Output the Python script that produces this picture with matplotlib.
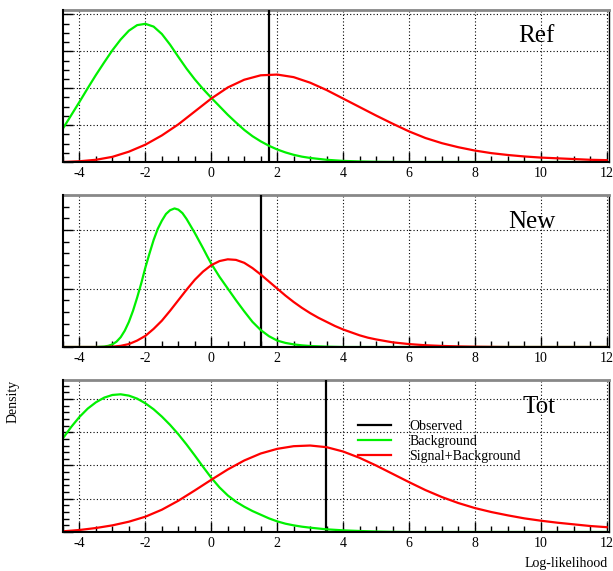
import matplotlib
matplotlib.use("Agg")
import matplotlib.pyplot as plt
from matplotlib.ticker import MultipleLocator, AutoMinorLocator

plt.rcParams['font.family'] = ['Liberation Serif', 'DejaVu Serif']
plt.rcParams['axes.unicode_minus'] = False

# ---------------- data ----------------
panel_names = ["Ref", "New", "Tot"]
observed = [1.76, 1.51, 3.47]
y_top = [4.12, 2.60, 4.57]
y_minor = [4, 5, 5]

ref_bkg_x = [-4.5, -4.25, -4.0, -3.75, -3.5, -3.25, -3.0, -2.75, -2.5, -2.25, -2.0, -1.75, -1.5,
             -1.25, -1.0, -0.75, -0.5, -0.25, 0.0, 0.25, 0.5, 0.75, 1.0, 1.25, 1.5, 1.75, 2.0,
             2.25, 2.5, 2.75, 3.0, 3.5, 4.0, 4.5, 5.0, 5.5, 6.0, 12.0]
ref_bkg_y = [0.91, 1.27, 1.63, 2.00, 2.36, 2.70, 3.03, 3.32, 3.56, 3.71, 3.745, 3.67, 3.47,
             3.18, 2.85, 2.53, 2.24, 1.98, 1.74, 1.51, 1.28, 1.07, 0.87, 0.70, 0.56, 0.44, 0.34,
             0.26, 0.195, 0.145, 0.11, 0.06, 0.03, 0.015, 0.006, 0.002, 0.0, 0.0]

ref_sb_x = [-4.5, -4.0, -3.5, -3.0, -2.5, -2.0, -1.5, -1.0, -0.5, 0.0, 0.5, 1.0, 1.5, 2.0, 2.5,
            3.0, 3.5, 4.0, 4.5, 5.0, 5.5, 6.0, 6.5, 7.0, 7.5, 8.0, 8.5, 9.0, 9.5, 10.0, 10.5,
            11.0, 11.5, 12.0]
ref_sb_y = [0.0, 0.02, 0.06, 0.14, 0.28, 0.47, 0.72, 1.02, 1.37, 1.72, 2.02, 2.23, 2.35, 2.37,
            2.30, 2.15, 1.95, 1.72, 1.49, 1.26, 1.04, 0.83, 0.65, 0.51, 0.40, 0.31, 0.24, 0.19,
            0.15, 0.12, 0.10, 0.08, 0.06, 0.05]

new_bkg_x = [-4.5, -3.5, -3.25, -3.125, -3.0, -2.875, -2.75, -2.625, -2.5, -2.375, -2.25, -2.125,
             -2.0, -1.875, -1.75, -1.625, -1.5, -1.375, -1.25, -1.115, -1.0, -0.875, -0.75,
             -0.625, -0.5, -0.375, -0.25, -0.125, 0.0, 0.25, 0.5, 0.75, 1.0, 1.25, 1.5, 1.75,
             2.0, 2.25, 2.5, 2.75, 3.0, 3.5, 4.0, 12.0]
new_bkg_y = [0.0, 0.0, 0.008, 0.02, 0.045, 0.092, 0.167, 0.28, 0.43, 0.62, 0.845, 1.09,
             1.36, 1.60, 1.83, 2.02, 2.16, 2.275, 2.34, 2.37, 2.35, 2.29, 2.19,
             2.07, 1.95, 1.82, 1.69, 1.555, 1.425, 1.20, 1.00, 0.80, 0.61, 0.43, 0.29, 0.185,
             0.11, 0.07, 0.045, 0.028, 0.017, 0.006, 0.0, 0.0]

new_sb_x = [-4.5, -3.25, -3.0, -2.75, -2.5, -2.25, -2.0, -1.75, -1.5, -1.25, -1.0, -0.75, -0.5,
            -0.25, 0.0, 0.25, 0.5, 0.75, 1.0, 1.25, 1.5, 1.75, 2.0, 2.25, 2.5, 2.75, 3.0, 3.25,
            3.5, 3.75, 4.0, 4.25, 4.5, 4.75, 5.0, 5.5, 6.0, 6.5, 7.0, 7.5, 8.0, 9.0, 12.0]
new_sb_y = [0.0, 0.0, 0.005, 0.02, 0.05, 0.11, 0.19, 0.31, 0.45, 0.62, 0.80, 0.98, 1.15,
            1.29, 1.40, 1.47, 1.50, 1.49, 1.44, 1.35, 1.24, 1.12, 1.00, 0.88, 0.77, 0.67, 0.58, 0.50,
            0.43, 0.36, 0.30, 0.25, 0.20, 0.16, 0.13, 0.08, 0.05, 0.03, 0.018, 0.01, 0.005, 0.0, 0.0]

tot_bkg_x = [-4.5, -4.25, -4.0, -3.75, -3.5, -3.25, -3.0, -2.75, -2.5, -2.25, -2.0, -1.75, -1.5,
             -1.25, -1.0, -0.75, -0.5, -0.25, 0.0, 0.25, 0.5, 0.75, 1.0, 1.25, 1.5, 1.75, 2.0,
             2.25, 2.5, 2.75, 3.0, 3.5, 4.0, 4.5, 5.0, 5.5, 6.0, 12.0]
tot_bkg_y = [2.82, 3.16, 3.46, 3.71, 3.90, 4.04, 4.12, 4.14, 4.10, 4.01, 3.87, 3.69, 3.47,
             3.22, 2.94, 2.63, 2.30, 1.96, 1.63, 1.34, 1.10, 0.91, 0.76, 0.63, 0.52, 0.41, 0.32,
             0.25, 0.20, 0.16, 0.13, 0.08, 0.05, 0.03, 0.015, 0.005, 0.0, 0.0]

tot_sb_x = [-4.5, -4.0, -3.5, -3.0, -2.5, -2.0, -1.5, -1.0, -0.5, 0.0, 0.5, 1.0, 1.5, 2.0, 2.5,
            3.0, 3.5, 4.0, 4.5, 5.0, 5.5, 6.0, 6.5, 7.0, 7.5, 8.0, 8.5, 9.0, 9.5, 10.0, 10.5,
            11.0, 11.5, 12.0]
tot_sb_y = [0.02, 0.06, 0.12, 0.20, 0.31, 0.46, 0.67, 0.94, 1.25, 1.57, 1.88, 2.15, 2.36, 2.50,
            2.58, 2.60, 2.55, 2.42, 2.23, 2.00, 1.75, 1.50, 1.26, 1.05, 0.87, 0.72, 0.60, 0.50,
            0.41, 0.34, 0.28, 0.23, 0.18, 0.145]

bkg_x = [ref_bkg_x, new_bkg_x, tot_bkg_x]
bkg_y = [ref_bkg_y, new_bkg_y, tot_bkg_y]
sb_x = [ref_sb_x, new_sb_x, tot_sb_x]
sb_y = [ref_sb_y, new_sb_y, tot_sb_y]

legend_labels = ["Observed", "Background", "Signal+Background"]
x_label = "Log-likelihood"
y_label = "Density"
x_range = (-4.5, 12.07)

# ---------------- figure ----------------
W, H = 613, 571
fig = plt.figure(figsize=(W / 100, H / 100), dpi=100)

panel_px = [(10, 162), (195, 347), (380, 532)]  # top, bottom in pixels
left_px, right_px = 63, 609
title_pos = [(0.833, 0.79), (0.815, 0.783), (0.842, 0.783)]

for i in range(3):
    top, bot = panel_px[i]
    ax = fig.add_axes([left_px / W, (H - bot) / H, (right_px - left_px) / W, (bot - top) / H])
    ax.set_xlim(*x_range)
    ax.set_ylim(0, y_top[i])

    h_obs = ax.axvline(observed[i], color='black', lw=1.6, zorder=3)
    h_bkg, = ax.plot(bkg_x[i], bkg_y[i], color='#00f000', lw=1.6, zorder=3,
                     solid_joinstyle='round')
    h_sb, = ax.plot(sb_x[i], sb_y[i], color='#ff0000', lw=1.6, zorder=3,
                    solid_joinstyle='round')

    ax.xaxis.set_major_locator(MultipleLocator(2))
    ax.xaxis.set_minor_locator(MultipleLocator(0.5))
    ax.yaxis.set_major_locator(MultipleLocator(1))
    ax.yaxis.set_minor_locator(AutoMinorLocator(y_minor[i]))
    ax.tick_params(axis='both', which='major', direction='in', length=7.5, width=1,
                   top=False, right=False, labelsize=10, pad=3.5)
    ax.tick_params(axis='both', which='minor', direction='in', length=4, width=1,
                   top=False, right=False)
    ax.tick_params(axis='y', labelleft=False)
    ax.grid(True, which='major', color='black', lw=0.8, linestyle=(0, (1, 2)))
    ax.set_axisbelow(True)

    for s in ['left', 'bottom']:
        ax.spines[s].set_linewidth(1.5)
        ax.spines[s].set_color('black')
        ax.spines[s].set_zorder(4)
    ax.spines['right'].set_linewidth(1.0)
    ax.spines['right'].set_color('black')
    ax.spines['top'].set_linewidth(2.0)
    ax.spines['top'].set_color('#888888')

    ax.text(title_pos[i][0], title_pos[i][1], panel_names[i], transform=ax.transAxes,
            fontsize=18, ha='left', va='baseline')

    if i == 2:
        ax.legend([h_obs, h_bkg, h_sb], legend_labels, loc='upper left',
                  bbox_to_anchor=((358 - left_px) / (right_px - left_px), (bot - 420) / (bot - top)),
                  frameon=False, fontsize=10, handlelength=2.4, handletextpad=1.3,
                  labelspacing=0.15, borderpad=0, borderaxespad=0)

fig.text(13 / W, (H - 401) / H, y_label, rotation=90, ha='center', va='center', fontsize=10)
fig.text(608 / W, (H - 563) / H, x_label, ha='right', va='center', fontsize=10)

fig.savefig("out.png", dpi=100)
